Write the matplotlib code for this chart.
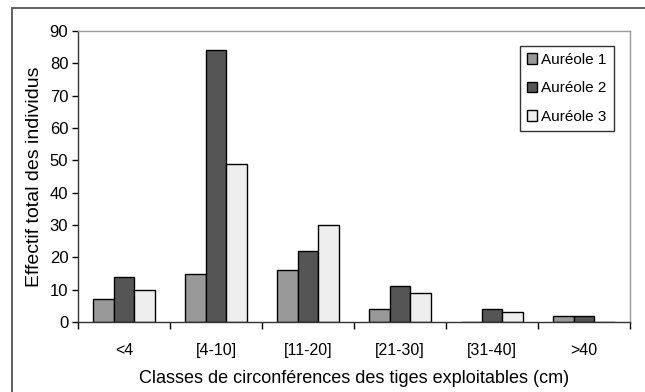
import matplotlib
matplotlib.use("Agg")
import matplotlib.pyplot as plt
import numpy as np
from matplotlib.patches import Rectangle

categories = ["<4", "[4-10]", "[11-20]", "[21-30]", "[31-40]", ">40"]
aureole1 = [7, 15, 16, 4, 0, 2]
aureole2 = [14, 84, 22, 11, 4, 2]
aureole3 = [10, 49, 30, 9, 3, 0]
series_names = ["Auréole 1", "Auréole 2", "Auréole 3"]
colors = ["#999999", "#555555", "#eeeeee"]
yticks = [0, 10, 20, 30, 40, 50, 60, 70, 80, 90]

plt.rcParams['font.family'] = ['Liberation Sans', 'DejaVu Sans']

W, H = 645, 392
fig = plt.figure(figsize=(W / 100, H / 100), dpi=100)
ax = fig.add_axes([78 / W, (H - 322) / H, (630 - 78) / W, (322 - 31) / H])

# outer frame
fig.patches.append(Rectangle((12 / W, -0.1), 1.2, (H - 8) / H + 0.1,
                             transform=fig.transFigure, fill=False,
                             edgecolor="#555555", linewidth=1.3))

x = np.arange(len(categories))
bw = 1 / 4.5
data = [aureole1, aureole2, aureole3]
handles = []
for i, (vals, c, name) in enumerate(zip(data, colors, series_names)):
    b = ax.bar(x + (i - 1) * bw, vals, width=bw, color=c, edgecolor="black",
               linewidth=1.0, label=name)
    handles.append(b)

ax.set_xlim(-0.5, len(categories) - 0.5)
ax.set_ylim(0, 90)
ax.set_yticks(yticks)
ax.tick_params(axis='y', labelsize=12, length=4, width=1, direction='out', pad=3)
ax.set_xticks(x)
ax.set_xticklabels(categories)
ax.tick_params(axis='x', which='major', length=0, labelsize=11.5, pad=15)
ax.set_xticks(np.arange(len(categories) + 1) - 0.5, minor=True)
ax.tick_params(axis='x', which='minor', length=5, width=1, direction='out')

for s in ["left", "bottom"]:
    ax.spines[s].set_color("#333333")
    ax.spines[s].set_linewidth(1.0)
for s in ["top", "right"]:
    ax.spines[s].set_color("#999999")
    ax.spines[s].set_linewidth(1.0)

ax.set_ylabel("Effectif total des individus", fontsize=14, labelpad=5)
ax.set_xlabel("Classes de circonférences des tiges exploitables (cm)", fontsize=13, labelpad=9)

leg = ax.legend(handles=handles, loc="upper left",
                bbox_to_anchor=((520 - 78) / (630 - 78), (322 - 46) / (322 - 31)),
                fontsize=11, frameon=True, fancybox=False, handlelength=0.65,
                handleheight=0.65, handletextpad=0.3, labelspacing=0.95,
                borderpad=0.45, borderaxespad=0)
leg.get_frame().set_edgecolor("black")
leg.get_frame().set_linewidth(1.0)

fig.savefig("out.png", dpi=100)
